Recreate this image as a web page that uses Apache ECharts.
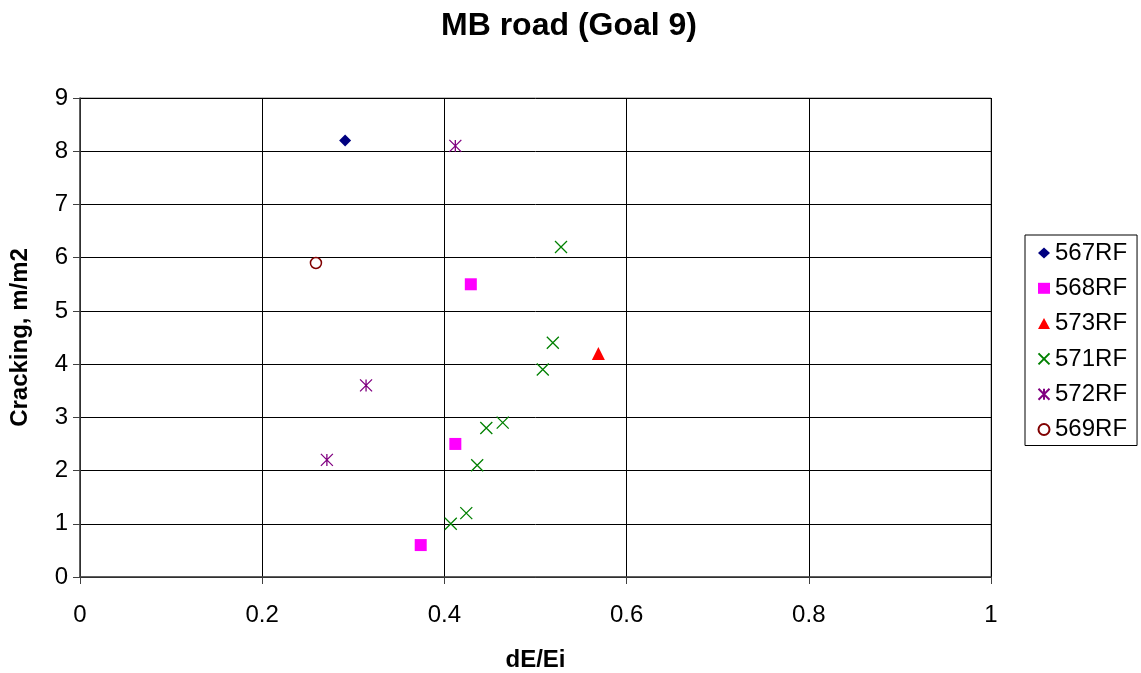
<!DOCTYPE html>
<html><head><meta charset="utf-8">
<script src="https://cdn.jsdelivr.net/npm/echarts@6/dist/echarts.min.js"></script>
<style>html,body{margin:0;padding:0;background:#fff}#c{width:1141px;height:673px}</style>
</head><body><div id="c"></div>
<script>
const title = "MB road (Goal 9)";
const xName = "dE/Ei";
const yName = "Cracking, m/m2";
const s567 = [[0.291, 8.2]];
const s568 = [[0.374, 0.6], [0.412, 2.5], [0.429, 5.5]];
const s573 = [[0.569, 4.2]];
const s571 = [[0.407, 1.0], [0.424, 1.2], [0.436, 2.1], [0.446, 2.8], [0.464, 2.9], [0.508, 3.9], [0.519, 4.4], [0.528, 6.2]];
const s572 = [[0.412, 8.1], [0.314, 3.6], [0.271, 2.2]];
const s569 = [[0.259, 5.9]];

const font = "'Liberation Sans', Arial, sans-serif";
const X_PATH = 'path://M0,0 L10,10 M10,0 L0,10';
const STAR_PATH = 'path://M5,0 L5,10 M0,0 L10,10 M10,0 L0,10';

const chart = echarts.init(document.getElementById('c'), null, {renderer: 'canvas'});
chart.setOption({
  animation: false,
  backgroundColor: '#fff',
  title: {text: title, left: 564, top: 5, textAlign: 'center',
    textStyle: {fontFamily: font, fontSize: 32, fontWeight: 'bold', color: '#000'}},
  grid: {left: 80, right: 150, top: 98, bottom: 96, show: true, borderColor: '#808080', borderWidth: 1,
    containLabel: false, outerBoundsMode: 'none'},
  legend: {
    orient: 'vertical', left: 1025, top: 235, width: 112,
    padding: [6, 10, 4, 11], itemGap: 11.3,
    borderColor: '#000', borderWidth: 1,
    itemWidth: 12, itemHeight: 11,
    textStyle: {fontFamily: font, fontSize: 24, color: '#000'},
    data: ['567RF', '568RF', '573RF', '571RF', '572RF', '569RF']
  },
  xAxis: {
    type: 'value', min: 0, max: 1, interval: 0.2,
    name: xName, nameLocation: 'middle', nameGap: 71,
    nameTextStyle: {fontFamily: font, fontSize: 24, fontWeight: 'bold', color: '#000'},
    axisLine: {show: true, onZero: false, lineStyle: {color: '#404040', width: 1.5}},
    axisTick: {show: true, length: 7, lineStyle: {color: '#404040'}},
    axisLabel: {fontFamily: font, fontSize: 24, color: '#000', margin: 26},
    splitLine: {show: true, lineStyle: {color: '#000', width: 1}}
  },
  yAxis: {
    type: 'value', min: 0, max: 9, interval: 1,
    name: yName, nameLocation: 'middle', nameGap: 48, nameRotate: 90,
    nameTextStyle: {fontFamily: font, fontSize: 24, fontWeight: 'bold', color: '#000'},
    axisLine: {show: true, onZero: false, lineStyle: {color: '#404040', width: 1.5}},
    axisTick: {show: true, length: 7, lineStyle: {color: '#404040'}},
    axisLabel: {fontFamily: font, fontSize: 24, color: '#000', margin: 12},
    splitLine: {show: true, lineStyle: {color: '#000', width: 1}}
  },
  series: [
    {name: '567RF', type: 'scatter', data: s567, symbol: 'diamond', symbolSize: 12,
      itemStyle: {color: '#000080', opacity: 1}},
    {name: '568RF', type: 'scatter', data: s568, symbol: 'rect', symbolSize: 12,
      itemStyle: {color: '#FF00FF', opacity: 1}},
    {name: '573RF', type: 'scatter', data: s573, symbol: 'triangle', symbolSize: 13,
      itemStyle: {color: '#FF0000', opacity: 1}},
    {name: '571RF', type: 'scatter', data: s571, symbol: X_PATH, symbolSize: 12,
      itemStyle: {color: 'none', borderColor: '#008000', borderWidth: 1.3, opacity: 1}},
    {name: '572RF', type: 'scatter', data: s572, symbol: STAR_PATH, symbolSize: 12,
      itemStyle: {color: 'none', borderColor: '#800080', borderWidth: 1.3, opacity: 1}},
    {name: '569RF', type: 'scatter', data: s569, symbol: 'circle', symbolSize: 11,
      itemStyle: {color: '#fff', borderColor: '#800000', borderWidth: 1.5, opacity: 1}}
  ]
});
</script></body></html>
